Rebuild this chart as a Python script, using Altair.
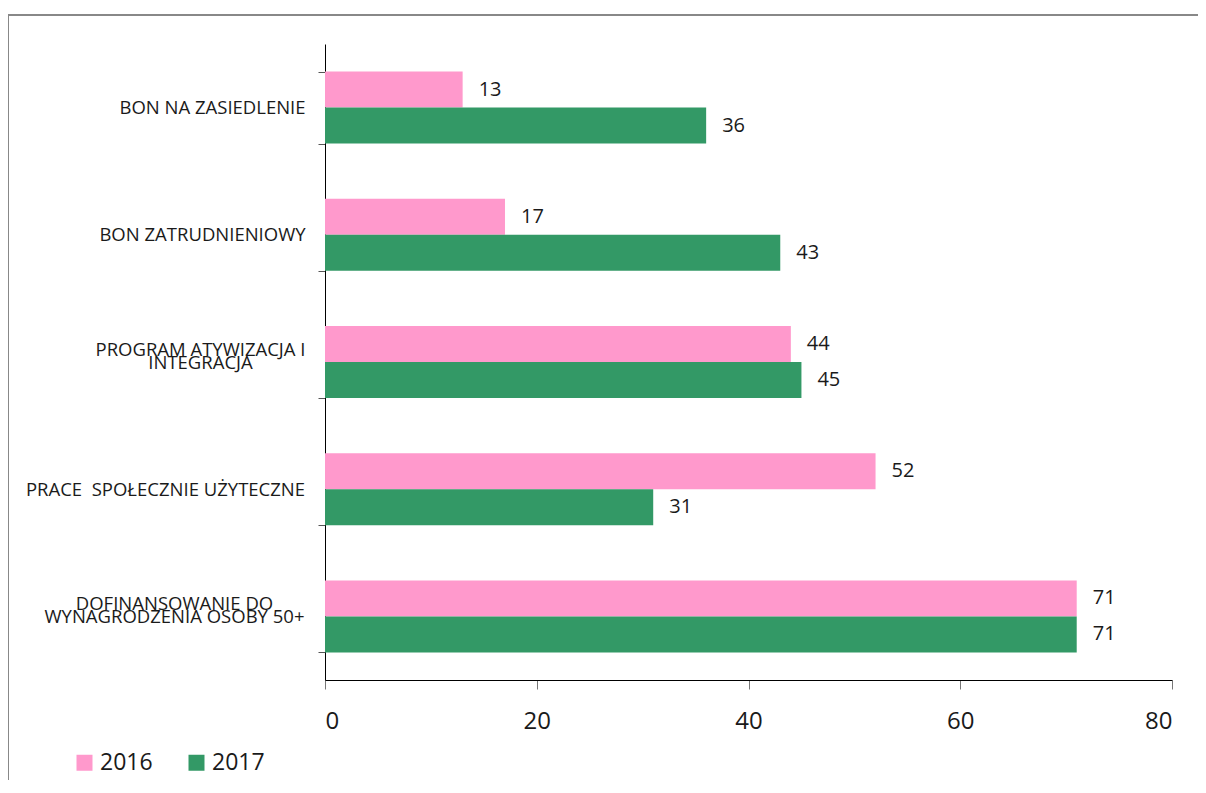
import altair as alt
import pandas as pd

categories = [
    "BON NA ZASIEDLENIE",
    "BON ZATRUDNIENIOWY",
    "PROGRAM ATYWIZACJA I|INTEGRACJA",
    "PRACE  SPOŁECZNIE UŻYTECZNE",
    "DOFINANSOWANIE DO|WYNAGRODZENIA OSOBY 50+",
]
years = ["2016", "2017"]
values_2016 = [13, 17, 44, 52, 71]
values_2017 = [36, 43, 45, 31, 71]
x_ticks = [0, 20, 40, 60, 80]

rows = []
for c, v16, v17 in zip(categories, values_2016, values_2017):
    rows.append({"cat": c, "year": "2016", "value": v16})
    rows.append({"cat": c, "year": "2017", "value": v17})
df = pd.DataFrame(rows)

FONT = "Open Sans"
colors = ["#FF99CC", "#339966"]

pad_expr = (
    "datum.value == 'BON NA ZASIEDLENIE' ? 106 : "
    "datum.value == 'BON ZATRUDNIENIOWY' ? 116 : "
    "datum.value == 'PROGRAM ATYWIZACJA I|INTEGRACJA' ? 118 : "
    "datum.value == 'PRACE  SPOŁECZNIE UŻYTECZNE' ? 153 : 144"
)
# multi-line labels: [line1, nbsp, line2]; single-line: [nbsp, label]
# with lineHeight 13 and offset -13 this centres each label block on its band
label_expr = (
    "indexof(datum.label, '|') >= 0 ? "
    "[split(datum.label, '|')[0], '\u00a0', split(datum.label, '|')[1]] : "
    "['\u00a0', replace(datum.label, '  ', ' \u00a0')]"
)

y_enc = alt.Y(
    "cat:N",
    sort=categories,
    title=None,
    scale=alt.Scale(paddingInner=0.434, paddingOuter=0.217),
    axis=alt.Axis(
        labelExpr=label_expr,
        labelAlign="center",
        labelBaseline="middle",
        labelOffset=-13,
        labelFont=FONT,
        labelFontSize=18.5,
        labelLineHeight=13,
        labelColor="#1a1a1a",
        labelLimit=400,
        labelOverlap=False,
        tickBand="extent",
        tickSize=7,
        tickColor="#555555",
        domainColor="#000000",
        domainWidth=1,
    ),
)

x_enc = alt.X(
    "value:Q",
    title=None,
    scale=alt.Scale(domain=[0, 80], nice=False),
    axis=alt.Axis(
        values=x_ticks,
        labelFont=FONT,
        labelFontSize=24,
        labelColor="#1a1a1a",
        labelPadding=20,
        tickSize=9,
        tickColor="#777777",
        domainColor="#000000",
        grid=False,
    ),
)

base = alt.Chart(df).encode(
    y=y_enc,
    yOffset=alt.YOffset("year:N", sort=years, scale=alt.Scale(paddingInner=0, paddingOuter=0)),
)

bars = base.mark_bar().encode(
    x=x_enc,
    color=alt.Color(
        "year:N",
        sort=years,
        scale=alt.Scale(domain=years, range=colors),
        legend=alt.Legend(
            title=None,
            orient="none",
            legendX=-252,
            legendY=707,
            direction="horizontal",
            symbolType="square",
            symbolSize=256,
            symbolStrokeWidth=0,
            labelFont=FONT,
            labelFontSize=23,
            labelColor="#1a1a1a",
            columnPadding=32,
            labelOffset=4,
        ),
    ),
)

labels = base.mark_text(
    align="left", baseline="middle", dx=16, dy=0, font=FONT, fontSize=20, color="#1a1a1a"
).encode(x="value:Q", text="value:Q")

frame = alt.Chart(pd.DataFrame({"a": [0]})).mark_rect(
    fill=None, stroke="#888888", strokeWidth=2
).encode(
    x=alt.value(-317), x2=alt.value(1100), y=alt.value(-29), y2=alt.value(900)
)

chart = (
    alt.layer(bars, labels, frame)
    .properties(
        width=847,
        height=636,
        autosize=alt.AutoSizeParams(type="none"),
        padding={"left": 317, "top": 36, "right": 26, "bottom": 100},
    )
    .configure_view(stroke=None)
)

# per-label padding on the y axis
spec = chart.to_dict()
for layer in spec["layer"]:
    enc = layer.get("encoding", {})
    if "y" in enc and "axis" in enc["y"]:
        enc["y"]["axis"]["labelPadding"] = {"expr": pad_expr}
chart = alt.Chart.from_dict(spec)

chart.save("out.html", embed_options={"renderer": "svg", "actions": False})
